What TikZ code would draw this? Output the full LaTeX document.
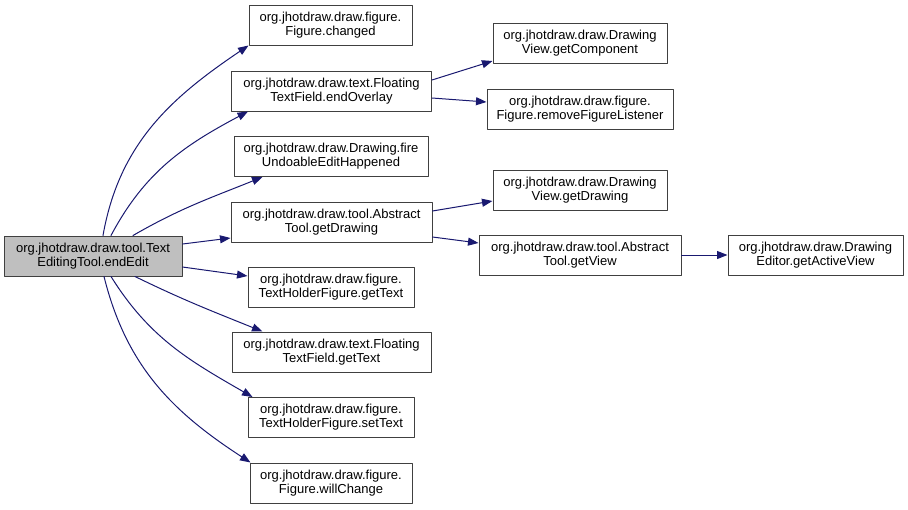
\documentclass[tikz,border=0pt]{standalone}
\usepackage{fontspec}
\setmainfont{Liberation Sans}
\usetikzlibrary{arrows.meta,calc,positioning}
\definecolor{edgeblue}{HTML}{191970}
\definecolor{rootgray}{HTML}{BFBFBF}
\definecolor{framegray}{HTML}{404040}
\tikzset{
  fnbox/.style={rectangle, draw=framegray, line width=1pt, minimum height=40pt, inner sep=0pt, align=center, font=\fontsize{13}{14.2}\selectfont},
  rootbox/.style={fnbox, fill=rootgray},
  callto/.style={draw=edgeblue, line width=1pt, -{Triangle[length=10.5pt,width=8pt,fill=edgeblue]}},
  every picture/.style={line cap=round, line join=round}
}

\begin{document}
\begin{tikzpicture}[x=1pt,y=1pt]
    \useasboundingbox (0,0) rectangle (908,-509);

    % caller
    \node[rootbox, minimum width=178pt] (endEdit) at (93,-256) {org.jhotdraw.draw.tool.Text\\EditingTool.endEdit};

    % direct callees
    \node[fnbox, minimum width=163pt] (changed) at (330.5,-25) {org.jhotdraw.draw.figure.\\Figure.changed};
    \node[fnbox, minimum width=200pt] (endOverlay) at (331.5,-91) {org.jhotdraw.draw.text.Floating\\TextField.endOverlay};
    \node[fnbox, minimum width=194pt] (fireEdit) at (331,-156.5) {org.jhotdraw.draw.Drawing.fire\\UndoableEditHappened};
    \node[fnbox, minimum width=201pt] (toolDrawing) at (331.5,-222) {org.jhotdraw.draw.tool.Abstract\\Tool.getDrawing};
    \node[fnbox, minimum width=166pt] (holderGet) at (331,-287) {org.jhotdraw.draw.figure.\\TextHolderFigure.getText};
    \node[fnbox, minimum width=199pt] (fieldGet) at (331.5,-352) {org.jhotdraw.draw.text.Floating\\TextField.getText};
    \node[fnbox, minimum width=166pt] (holderSet) at (331,-417.5) {org.jhotdraw.draw.figure.\\TextHolderFigure.setText};
    \node[fnbox, minimum width=162pt] (willChange) at (331,-483) {org.jhotdraw.draw.figure.\\Figure.willChange};

    % second level
    \node[fnbox, minimum width=174pt] (viewComp) at (580,-43) {org.jhotdraw.draw.Drawing\\View.getComponent};
    \node[fnbox, minimum width=186pt] (removeL) at (580,-109) {org.jhotdraw.draw.figure.\\Figure.removeFigureListener};
    \node[fnbox, minimum width=174pt] (viewDrawing) at (580,-190) {org.jhotdraw.draw.Drawing\\View.getDrawing};
    \node[fnbox, minimum width=202pt] (toolView) at (580,-255) {org.jhotdraw.draw.tool.Abstract\\Tool.getView};
    \node[fnbox, minimum width=175pt] (activeView) at (815.5,-255) {org.jhotdraw.draw.Drawing\\Editor.getActiveView};

    % calls from endEdit
    \draw[callto] ([xshift=10pt]endEdit.north) to[out=80,in=214] (changed.south west);
    \draw[callto] ([xshift=18pt]endEdit.north) to[out=62,in=208] ([xshift=17pt]endOverlay.south west);
    \draw[callto] ([xshift=40pt]endEdit.north) to[out=30,in=202] ([xshift=29pt]fireEdit.south west);
    \draw[callto] ([yshift=12pt]endEdit.east) -- ([yshift=-16pt]toolDrawing.west);
    \draw[callto] ([yshift=-11pt]endEdit.east) -- ([yshift=11pt]holderGet.west);
    \draw[callto] ([xshift=42pt]endEdit.south) to[out=-26,in=158] ([xshift=31pt]fieldGet.north west);
    \draw[callto] ([xshift=18pt]endEdit.south) to[out=-58,in=150] ([xshift=5pt]holderSet.north west);
    \draw[callto] ([xshift=11pt]endEdit.south) to[out=-76,in=147] ([xshift=1pt]willChange.north west);

    % second level calls
    \draw[callto] ([yshift=11pt]endOverlay.east) -- ([yshift=-18pt]viewComp.west);
    \draw[callto] ([yshift=-7pt]endOverlay.east) -- ([yshift=7pt]removeL.west);
    \draw[callto] ([yshift=11pt]toolDrawing.east) -- ([yshift=-11pt]viewDrawing.west);
    \draw[callto] ([yshift=-15pt]toolDrawing.east) -- ([yshift=12pt]toolView.west);
    \draw[callto] (toolView) -- (activeView);
\end{tikzpicture}
\end{document}
